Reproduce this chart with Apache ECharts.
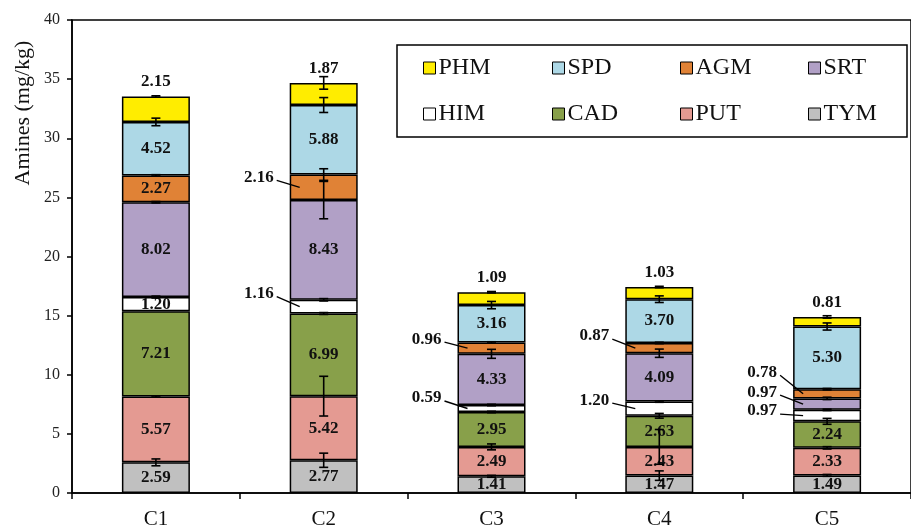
<!DOCTYPE html>
<html>
<head>
<meta charset="utf-8">
<script src="https://cdn.jsdelivr.net/npm/echarts@6/dist/echarts.min.js"></script>
<style>
  html, body { margin: 0; padding: 0; background: #fff; }
  #chart { width: 911px; height: 530px; }
</style>
</head>
<body>
<div id="chart"></div>
<script>
// Samples and amine names (stack order bottom -> top)
const categories = ['C1', 'C2', 'C3', 'C4', 'C5'];
const amineNames = ['TYM', 'PUT', 'CAD', 'HIM', 'SRT', 'AGM', 'SPD', 'PHM'];

// Mean contents, mg/kg
const TYM = [2.59, 2.77, 1.41, 1.47, 1.49];
const PUT = [5.57, 5.42, 2.49, 2.43, 2.33];
const CAD = [7.21, 6.99, 2.95, 2.63, 2.24];
const HIM = [1.20, 1.16, 0.59, 1.20, 0.97];
const SRT = [8.02, 8.43, 4.33, 4.09, 0.97];
const AGM = [2.27, 2.16, 0.96, 0.87, 0.78];
const SPD = [4.52, 5.88, 3.16, 3.70, 5.30];
const PHM = [2.15, 1.87, 1.09, 1.03, 0.81];

// Standard deviations
const TYM_sd = [0.29, 0.60, 0.08, 0.40, 0.08];
const PUT_sd = [0.06, 1.68, 0.25, 1.47, 0.10];
const CAD_sd = [0.00, 0.08, 0.06, 0.20, 0.25];
const HIM_sd = [0.08, 0.10, 0.06, 0.06, 0.06];
const SRT_sd = [0.06, 1.58, 0.38, 0.35, 0.10];
const AGM_sd = [0.06, 0.49, 0.06, 0.06, 0.06];
const SPD_sd = [0.32, 0.63, 0.31, 0.28, 0.30];
const PHM_sd = [0.06, 0.53, 0.06, 0.06, 0.10];

// Y axis ticks
const yMin = 0, yMax = 40, yStep = 5;

const values = { TYM, PUT, CAD, HIM, SRT, AGM, SPD, PHM };
const sds = { TYM: TYM_sd, PUT: PUT_sd, CAD: CAD_sd, HIM: HIM_sd, SRT: SRT_sd, AGM: AGM_sd, SPD: SPD_sd, PHM: PHM_sd };

const colors = {
  TYM: '#C0C0C0', PUT: '#E49A92', CAD: '#88A04A', HIM: '#FFFFFF',
  SRT: '#B1A0C6', AGM: '#E08236', SPD: '#ADD8E6', PHM: '#FFED00'
};

// Thin segments labelled beside the bar: [amine, sample index, vertical label shift]
const sideLabels = [
  ['HIM', 1, -13], ['AGM', 1, -10],
  ['AGM', 2, -9], ['HIM', 2, -10.5],
  ['AGM', 3, -12], ['HIM', 3, -8.5],
  ['AGM', 4, -21.5], ['SRT', 4, -12], ['HIM', 4, -4.5]
];

const serif = 'Liberation Serif, Times New Roman, serif';
const isSide = (name, i) => sideLabels.some(s => s[0] === name && s[1] === i);

// Cumulative stack tops and mid points
const tops = {}, mids = {};
let running = categories.map(() => 0);
amineNames.forEach(n => {
  mids[n] = running.map((r, i) => r + values[n][i] / 2);
  running = running.map((r, i) => r + values[n][i]);
  tops[n] = running.slice();
});

const barSeries = amineNames.map(n => ({
  name: n,
  type: 'bar',
  stack: 'amines',
  barWidth: 68,
  itemStyle: { color: colors[n], borderColor: '#000', borderWidth: 1.5 },
  label: {
    show: true,
    position: n === 'PHM' ? 'top' : 'inside',
    distance: 6,
    fontFamily: serif, fontWeight: 'bold', fontSize: 17, color: '#111',
    formatter: p => p.value.toFixed(2)
  },
  emphasis: { disabled: true },
  data: values[n].map((v, i) => isSide(n, i) ? { value: v, label: { show: false } } : v)
}));

const errData = [];
amineNames.forEach(n => {
  categories.forEach((c, i) => errData.push([i, tops[n][i], sds[n][i]]));
});

const errorSeries = {
  type: 'custom',
  name: 'sd',
  z: 5,
  silent: true,
  encode: { x: 0, y: 1 },
  data: errData,
  renderItem: (params, api) => {
    const x = api.value(0), top = api.value(1), sd = api.value(2);
    if (!sd) return null;
    const hi = api.coord([x, top + sd]);
    const lo = api.coord([x, top - sd]);
    const cx = hi[0], hw = 4.5;
    const st = { stroke: '#000', lineWidth: 1.6 };
    return {
      type: 'group',
      children: [
        { type: 'line', shape: { x1: cx, y1: hi[1], x2: cx, y2: lo[1] }, style: st },
        { type: 'line', shape: { x1: cx - hw, y1: hi[1], x2: cx + hw, y2: hi[1] }, style: st },
        { type: 'line', shape: { x1: cx - hw, y1: lo[1], x2: cx + hw, y2: lo[1] }, style: st }
      ]
    };
  }
};

const sideSeries = {
  type: 'custom',
  name: 'side',
  z: 6,
  silent: true,
  encode: { x: 0, y: 1 },
  data: sideLabels.map(s => [s[1], mids[s[0]][s[1]], values[s[0]][s[1]], s[2]]),
  renderItem: (params, api) => {
    const p = api.coord([api.value(0), api.value(1)]);
    const txt = api.value(2).toFixed(2);
    const dy = api.value(3);
    const ly = p[1] + dy;
    return {
      type: 'group',
      children: [
        { type: 'line', shape: { x1: p[0] - 47, y1: ly + 3, x2: p[0] - 24, y2: p[1] },
          style: { stroke: '#000', lineWidth: 1.4 } },
        { type: 'text', x: p[0] - 50, y: ly,
          style: { text: txt, align: 'right', verticalAlign: 'middle',
                   fontFamily: serif, fontWeight: 'bold', fontSize: 17, fill: '#111' } }
      ]
    };
  }
};

const legendCols = [['PHM', 'HIM'], ['SPD', 'CAD'], ['AGM', 'PUT'], ['SRT', 'TYM']];
const legendLefts = [423, 552, 680, 808];
const legends = legendCols.map((col, k) => ({
  data: col,
  orient: 'vertical',
  left: legendLefts[k],
  top: 56,
  padding: 0,
  itemWidth: 12,
  itemHeight: 12,
  itemGap: 22,
  selectedMode: false,
  icon: 'rect',
  itemStyle: { borderColor: '#000', borderWidth: 1 },
  textStyle: { fontFamily: serif, fontSize: 24, lineHeight: 24, color: '#111', padding: [0, 0, 0, -2] }
}));

const chart = echarts.init(document.getElementById('chart'), null, { renderer: 'canvas' });
chart.setOption({
  animation: false,
  backgroundColor: '#fff',
  grid: {
    left: 72, top: 20, width: 851, height: 477,
    show: true, borderColor: '#000', borderWidth: 1.5, backgroundColor: 'transparent'
  },
  legend: legends,
  graphic: [
    { type: 'rect', z: 0, shape: { x: 397, y: 45, width: 510, height: 92 },
      style: { fill: '#fff', stroke: '#000', lineWidth: 1.5 } },
    { type: 'text', x: 23, y: 113, rotation: Math.PI / 2,
      style: { text: 'Amines (mg/kg)', align: 'center', verticalAlign: 'middle',
               fontFamily: serif, fontSize: 22, fill: '#111' } }
  ],
  xAxis: {
    type: 'category',
    data: categories,
    axisLine: { lineStyle: { color: '#000', width: 1.5 } },
    axisTick: { show: true, alignWithLabel: false, length: 6, lineStyle: { color: '#000', width: 1.5 } },
    axisLabel: { fontFamily: serif, fontSize: 21, color: '#111', margin: 16 }
  },
  yAxis: {
    type: 'value',
    min: yMin, max: yMax, interval: yStep,
    axisLine: { show: true, lineStyle: { color: '#000', width: 1.5 } },
    axisTick: { show: true, length: 5, lineStyle: { color: '#000', width: 1.5 } },
    splitLine: { show: false },
    axisLabel: { fontFamily: serif, fontSize: 16, color: '#222', margin: 12 }
  },
  series: [...barSeries, errorSeries, sideSeries]
});
</script>
</body>
</html>
